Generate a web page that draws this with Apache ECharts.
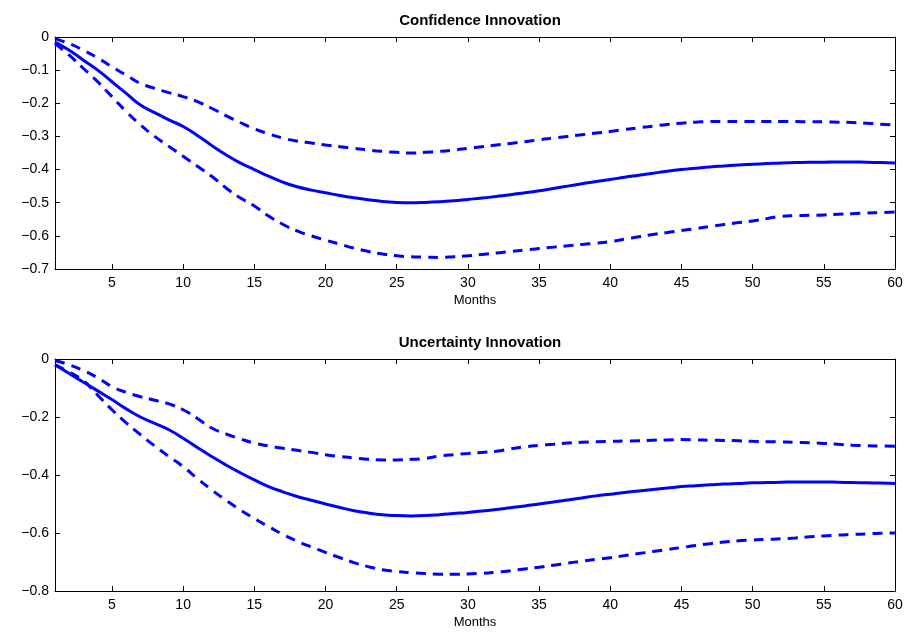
<!DOCTYPE html>
<html>
<head>
<meta charset="utf-8">
<script src="https://cdn.jsdelivr.net/npm/echarts@6/dist/echarts.min.js"></script>
<style>
  html, body { margin: 0; padding: 0; background: #fff; }
  #main { width: 907px; height: 633px; }
</style>
</head>
<body>
<div id="main"></div>
<script>
// months 1..60
const months = Array.from({ length: 60 }, (_, i) => String(i + 1));
const tickEvery = 5;

// Confidence Innovation
const confMid = [-0.015, -0.04, -0.07, -0.10, -0.135, -0.17, -0.205, -0.228, -0.25, -0.27,
  -0.297, -0.327, -0.355, -0.38, -0.40, -0.42, -0.438, -0.452, -0.462, -0.47,
  -0.478, -0.485, -0.491, -0.496, -0.499, -0.50, -0.499, -0.497, -0.494, -0.49,
  -0.486, -0.481, -0.476, -0.47, -0.464, -0.457, -0.45, -0.443, -0.436, -0.43,
  -0.423, -0.417, -0.411, -0.405, -0.40, -0.396, -0.392, -0.389, -0.386, -0.384,
  -0.382, -0.380, -0.379, -0.378, -0.378, -0.377, -0.377, -0.378, -0.379, -0.38];
const confUp = [-0.005, -0.02, -0.04, -0.063, -0.09, -0.115, -0.14, -0.155, -0.168, -0.18,
  -0.195, -0.215, -0.237, -0.258, -0.277, -0.292, -0.305, -0.314, -0.32, -0.326,
  -0.331, -0.336, -0.341, -0.345, -0.348, -0.35, -0.348, -0.345, -0.341, -0.336,
  -0.331, -0.326, -0.321, -0.316, -0.31, -0.305, -0.30, -0.295, -0.29, -0.285,
  -0.279, -0.274, -0.269, -0.264, -0.26, -0.257, -0.255, -0.255, -0.255, -0.255,
  -0.255, -0.255, -0.255, -0.256, -0.256, -0.257, -0.258, -0.26, -0.263, -0.266];
const confLow = [-0.02, -0.055, -0.095, -0.135, -0.18, -0.225, -0.265, -0.30, -0.33, -0.36,
  -0.39, -0.42, -0.455, -0.485, -0.51, -0.54, -0.565, -0.585, -0.60, -0.613,
  -0.625, -0.637, -0.647, -0.655, -0.66, -0.663, -0.664, -0.665, -0.663, -0.66,
  -0.656, -0.652, -0.647, -0.643, -0.638, -0.634, -0.63, -0.626, -0.622, -0.617,
  -0.61, -0.603, -0.596, -0.59, -0.584, -0.578, -0.572, -0.566, -0.56, -0.555,
  -0.548, -0.541, -0.539, -0.538, -0.537, -0.535, -0.533, -0.531, -0.53, -0.528];

// Uncertainty Innovation
const uncMid = [-0.02, -0.05, -0.08, -0.11, -0.14, -0.172, -0.20, -0.222, -0.244, -0.273,
  -0.305, -0.336, -0.365, -0.392, -0.417, -0.44, -0.458, -0.474, -0.487, -0.50,
  -0.512, -0.523, -0.531, -0.537, -0.54, -0.541, -0.54, -0.537, -0.533, -0.529,
  -0.524, -0.519, -0.513, -0.507, -0.50, -0.493, -0.486, -0.479, -0.472, -0.466,
  -0.46, -0.455, -0.45, -0.445, -0.44, -0.437, -0.434, -0.431, -0.429, -0.427,
  -0.426, -0.425, -0.424, -0.424, -0.424, -0.425, -0.426, -0.427, -0.428, -0.429];
const uncUp = [-0.005, -0.02, -0.04, -0.065, -0.095, -0.115, -0.13, -0.142, -0.155, -0.175,
  -0.205, -0.238, -0.258, -0.275, -0.29, -0.30, -0.308, -0.315, -0.322, -0.33,
  -0.336, -0.341, -0.346, -0.348, -0.348, -0.346, -0.343, -0.335, -0.33, -0.326,
  -0.322, -0.318, -0.31, -0.303, -0.298, -0.294, -0.29, -0.287, -0.285, -0.284,
  -0.283, -0.282, -0.28, -0.279, -0.278, -0.279, -0.28, -0.281, -0.282, -0.284,
  -0.285, -0.286, -0.287, -0.289, -0.291, -0.294, -0.297, -0.299, -0.30, -0.301];
const uncLow = [-0.02, -0.045, -0.075, -0.125, -0.175, -0.22, -0.261, -0.30, -0.336, -0.371,
  -0.412, -0.451, -0.487, -0.52, -0.55, -0.578, -0.605, -0.628, -0.648, -0.667,
  -0.685, -0.702, -0.716, -0.727, -0.733, -0.737, -0.74, -0.742, -0.742, -0.741,
  -0.739, -0.735, -0.73, -0.724, -0.718, -0.711, -0.704, -0.697, -0.691, -0.685,
  -0.678, -0.671, -0.664, -0.657, -0.65, -0.643, -0.637, -0.631, -0.627, -0.624,
  -0.622, -0.62, -0.617, -0.613, -0.61, -0.607, -0.605, -0.603, -0.601, -0.60];

const FONT = 'Liberation Sans, Arial, sans-serif';
const BLUE = '#0000ff';
const TICK = 5;

const fmtY = (v) => {
  if (Math.abs(v) < 1e-9) return '0';
  return '\u2212' + Math.abs(v).toFixed(1);
};
// tick/label only on multiples of 5
const onFive = (idx, val) => Number(val) % tickEvery === 0;

const axisLine = { show: true, onZero: false, lineStyle: { color: '#000', width: 1 } };

function xAxes(gridIndex, showName) {
  return [
    {
      type: 'category', gridIndex, position: 'bottom', data: months, boundaryGap: false,
      name: showName, nameLocation: 'middle', nameGap: 25,
      nameTextStyle: { fontFamily: FONT, fontSize: 13, color: '#000' },
      axisLine,
      axisTick: { inside: true, length: TICK, interval: onFive, lineStyle: { color: '#000' } },
      axisLabel: { interval: onFive, fontFamily: FONT, fontSize: 14, color: '#000', margin: 7 },
      splitLine: { show: false }
    },
    {
      type: 'category', gridIndex, position: 'top', data: months, boundaryGap: false,
      axisLine,
      axisTick: { inside: true, length: TICK, interval: onFive, lineStyle: { color: '#000' } },
      axisLabel: { show: false },
      splitLine: { show: false }
    }
  ];
}

function yAxes(gridIndex, min, interval) {
  return [
    {
      type: 'value', gridIndex, position: 'left', min, max: 0, interval,
      axisLine,
      axisTick: { show: true, inside: true, length: TICK, lineStyle: { color: '#000' } },
      axisLabel: { formatter: fmtY, fontFamily: FONT, fontSize: 14, color: '#000', margin: 6 },
      splitLine: { show: false }
    },
    {
      type: 'value', gridIndex, position: 'right', min, max: 0, interval,
      axisLine,
      axisTick: { show: true, inside: true, length: TICK, lineStyle: { color: '#000' } },
      axisLabel: { show: false },
      splitLine: { show: false }
    }
  ];
}

function line(vals, axisIdx, dashed) {
  return {
    type: 'line', data: vals, xAxisIndex: axisIdx, yAxisIndex: axisIdx,
    showSymbol: false, smooth: true, silent: true,
    lineStyle: { color: BLUE, width: 3, type: dashed ? [10, 7] : 'solid' }
  };
}

const chart = echarts.init(document.getElementById('main'), null, { renderer: 'canvas' });
chart.setOption({
  animation: false,
  backgroundColor: '#fff',
  title: [
    { text: 'Confidence Innovation', left: 475, top: 8, textAlign: 'center',
      textStyle: { fontFamily: FONT, fontSize: 15, fontWeight: 'bold', color: '#000' } },
    { text: 'Uncertainty Innovation', left: 475, top: 330, textAlign: 'center',
      textStyle: { fontFamily: FONT, fontSize: 15, fontWeight: 'bold', color: '#000' } }
  ],
  grid: [
    { left: 55, top: 37, width: 840, height: 232 },
    { left: 55, top: 359, width: 840, height: 232 }
  ],
  xAxis: [...xAxes(0, 'Months'), ...xAxes(1, 'Months')],
  yAxis: [...yAxes(0, -0.7, 0.1), ...yAxes(1, -0.8, 0.2)],
  series: [
    line(confMid, 0, false),
    line(confUp, 0, true),
    line(confLow, 0, true),
    line(uncMid, 2, false),
    line(uncUp, 2, true),
    line(uncLow, 2, true)
  ]
});
</script>
</body>
</html>
